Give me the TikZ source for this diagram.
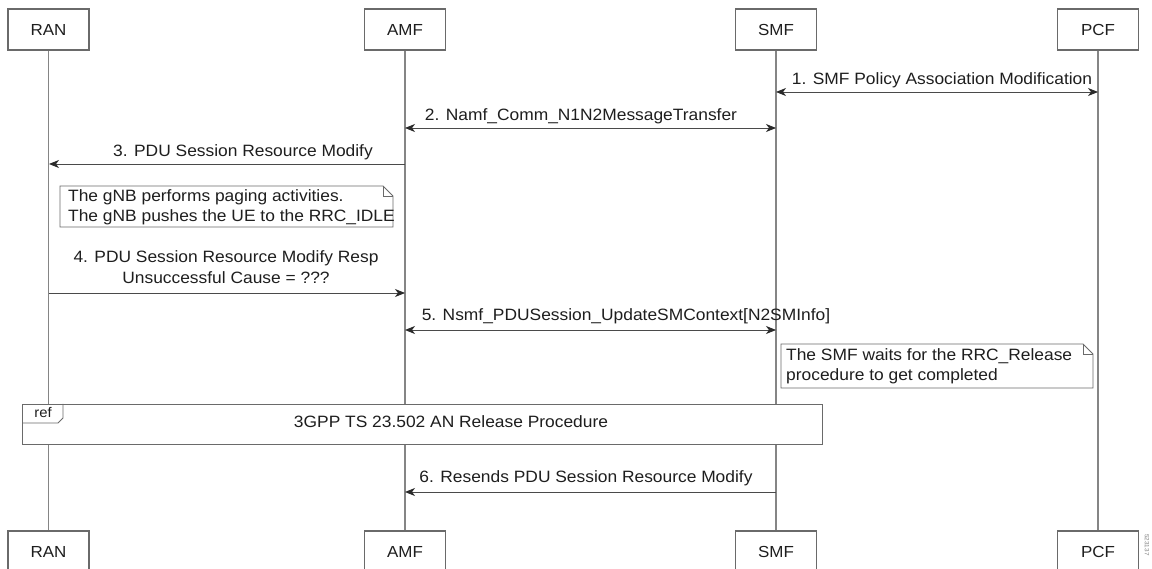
\documentclass[tikz,border=0pt]{standalone}
\usepackage{fontspec}
\setmainfont{Liberation Sans}[FakeStretch=1.06]
\usetikzlibrary{arrows.meta}
\definecolor{lifec}{HTML}{858585}
\definecolor{boxc}{HTML}{6A6A6A}
\definecolor{arrc}{HTML}{4A4A4A}
\definecolor{tipc}{HTML}{2A2A2A}
\definecolor{txtc}{HTML}{1E1E1E}
\begin{document}
\begin{tikzpicture}[x=1pt,y=-1pt,
  actor/.style={draw=boxc,line width=1.1pt,minimum width=81pt,minimum height=41pt,inner sep=0pt,text=txtc,font=\fontsize{16}{19}\selectfont},
  life/.style={draw=lifec,line width=1.3pt},
  msg/.style={draw=arrc,line width=0.9pt,-{Stealth[length=10pt,width=8pt,inset=3pt,color=tipc]}},
  dmsg/.style={draw=arrc,line width=0.9pt,{Stealth[length=10pt,width=8pt,inset=3pt,color=tipc]}-{Stealth[length=10pt,width=8pt,inset=3pt,color=tipc]}},
  lbl/.style={text=txtc,font=\fontsize{16.4}{19}\selectfont,inner sep=0pt,align=center},
  notebox/.style={draw=boxc,line width=0.9pt,fill=white}
]
\useasboundingbox (0,0) rectangle (1152,569);
% actors
\node[actor] (ranT) at (48.5,29.5) {RAN};
\node[actor] (amfT) at (405,29.5) {AMF};
\node[actor] (smfT) at (776,29.5) {SMF};
\node[actor] (pcfT) at (1098,29.5) {PCF};
\node[actor] (ranB) at (48.5,551.5) {RAN};
\node[actor] (amfB) at (405,551.5) {AMF};
\node[actor] (smfB) at (776,551.5) {SMF};
\node[actor] (pcfB) at (1098,551.5) {PCF};
% lifelines
\draw[life] (ranT.south) -- (ranB.north);
\draw[life] (amfT.south) -- (amfB.north);
\draw[life] (smfT.south) -- (smfB.north);
\draw[life] (pcfT.south) -- (pcfB.north);
% message anchor coordinates
\coordinate (smf1) at (776,92);  \coordinate (pcf1) at (1098,92);
\coordinate (amf2) at (405,128); \coordinate (smf2) at (776,128);
\coordinate (amf3) at (405,164); \coordinate (ran3) at (49,164);
\coordinate (ran4) at (49,293);  \coordinate (amf4) at (405,293);
\coordinate (amf5) at (405,330); \coordinate (smf5) at (776,330);
\coordinate (smf6) at (776,492); \coordinate (amf6) at (405,492);
% messages
\draw[dmsg] (smf1) -- (pcf1);
\node[lbl] (l1) at (942,80) {1. SMF Policy Association Modification};
\draw[dmsg] (amf2) -- (smf2);
\node[lbl] (l2) at (581,116) {2. Namf\_Comm\_N1N2MessageTransfer};
\draw[msg] (amf3) -- (ran3);
\node[lbl] (l3) at (243,152) {3. PDU Session Resource Modify};
% note 1
\draw[notebox] (60,186) -- (383,186) -- (393,196) -- (393,227) -- (60,227) -- cycle;
\draw[draw=boxc,line width=0.9pt] (383,186) -- (383,196) -- (393,196);
\node[lbl,anchor=west,align=left] (n1a) at (68,197) {The gNB performs paging activities.};
\node[lbl,anchor=west,align=left] (n1b) at (68,217) {The gNB pushes the UE to the RRC\_IDLE};
% message 4
\draw[msg] (ran4) -- (amf4);
\node[lbl] (l4a) at (226,258) {4. PDU Session Resource Modify Resp};
\node[lbl] (l4b) at (226,278) {Unsuccessful Cause = ???};
% message 5
\draw[dmsg] (amf5) -- (smf5);
\node[lbl] (l5) at (626,316) {5. Nsmf\_PDUSession\_UpdateSMContext[N2SMInfo]};
% note 2
\draw[notebox] (781,344) -- (1083,344) -- (1093,354) -- (1093,388) -- (781,388) -- cycle;
\draw[draw=boxc,line width=0.9pt] (1083,344) -- (1083,354) -- (1093,354);
\node[lbl,anchor=west,align=left] (n2a) at (786,356) {The SMF waits for the RRC\_Release};
\node[lbl,anchor=west,align=left] (n2b) at (786,376) {procedure to get completed};
% ref frame
\draw[notebox] (22,404) rectangle (822,444);
\draw[draw=boxc,line width=0.9pt] (22,423) -- (58,423) -- (63,418) -- (63,404);
\node[lbl,font=\fontsize{14}{16}\selectfont] (reft) at (43,413) {ref};
\node[lbl] (refm) at (451,422) {3GPP TS 23.502 AN Release Procedure};
% message 6
\draw[msg] (smf6) -- (amf6);
\node[lbl] (l6) at (586,478) {6. Resends PDU Session Resource Modify};
% image id
\node[text=gray,font=\fontsize{6}{7}\selectfont,rotate=-90,inner sep=0pt] (imgid) at (1147,545) {523137};
\end{tikzpicture}
\end{document}
